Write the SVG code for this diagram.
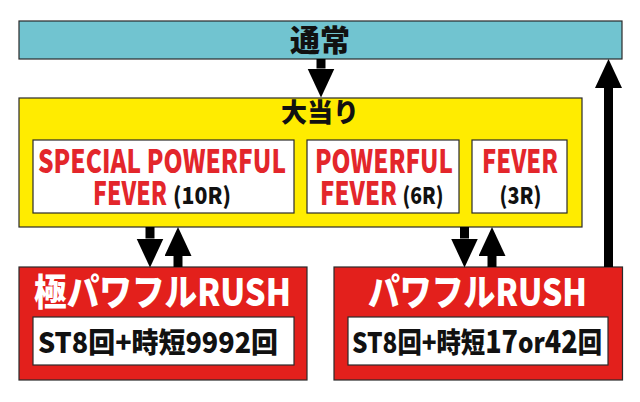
<svg xmlns="http://www.w3.org/2000/svg" width="640" height="402" viewBox="0 0 640 402">
<defs>
<style>
.box{stroke:#2a2a2a;stroke-width:1.2}
.cyan{fill:#71c4d0}
.yellow{fill:#ffec00}
.red{fill:#e3201c}
.white{fill:#ffffff}
.t{font-family:"Noto Sans CJK JP","Noto Sans",sans-serif;font-weight:900}
.rt{fill:#e3262b}
.bt{fill:#111111}
.wt{fill:#ffffff}
.conn{stroke:#000;stroke-width:9;fill:none;marker-end:url(#head)}
</style>
<marker id="head" markerUnits="userSpaceOnUse" markerWidth="30" markerHeight="28" refX="0" refY="13.5" orient="auto" viewBox="0 0 30 28">
<path d="M0,0 L29,13.5 L0,27 z" fill="#000"/>
</marker>
</defs>
<rect width="640" height="402" fill="#ffffff"/>

<g id="tsujo">
<rect class="box cyan" x="19" y="21" width="603" height="38"/>
<text class="t bt" x="320" y="51" font-size="30" text-anchor="middle">通常</text>
</g>

<g id="ooatari">
<rect class="box yellow" x="19" y="98" width="563" height="129"/>
<text class="t bt" x="320" y="122" font-size="26" text-anchor="middle">大当り</text>
</g>

<g id="spf">
<rect class="box white" x="33" y="140" width="261" height="73"/>
<text class="t rt" x="38" y="172.5" font-size="32" textLength="248" lengthAdjust="spacingAndGlyphs">SPECIAL POWERFUL</text>
<text class="t rt" x="93" y="204.5" font-size="32" textLength="74" lengthAdjust="spacingAndGlyphs">FEVER</text>
<text class="t bt" x="173" y="203.5" font-size="23" textLength="58" lengthAdjust="spacingAndGlyphs">(10R)</text>
</g>

<g id="pf">
<rect class="box white" x="307" y="140" width="152" height="73"/>
<text class="t rt" x="315" y="172.5" font-size="32" textLength="138" lengthAdjust="spacingAndGlyphs">POWERFUL</text>
<text class="t rt" x="320" y="204.5" font-size="32" textLength="77" lengthAdjust="spacingAndGlyphs">FEVER</text>
<text class="t bt" x="402.5" y="203.5" font-size="23" textLength="41" lengthAdjust="spacingAndGlyphs">(6R)</text>
</g>

<g id="fever">
<rect class="box white" x="472" y="140" width="95" height="73"/>
<text class="t rt" x="482" y="172.5" font-size="32" textLength="76" lengthAdjust="spacingAndGlyphs">FEVER</text>
<text class="t bt" x="499.5" y="203.5" font-size="23" textLength="42" lengthAdjust="spacingAndGlyphs">(3R)</text>
</g>

<g id="goku-rush">
<rect class="box red" x="19" y="267" width="288" height="113"/>
<text class="t wt" x="34" y="306" font-size="37" textLength="257" lengthAdjust="spacingAndGlyphs">極パワフルRUSH</text>
<rect class="box white" x="33" y="317" width="261" height="48"/>
<text class="t bt" x="38" y="352.5" font-size="28" textLength="240" lengthAdjust="spacingAndGlyphs">ST8回+時短9992回</text>
</g>

<g id="power-rush">
<rect class="box red" x="334" y="267" width="288.5" height="113"/>
<text class="t wt" x="368" y="306" font-size="37" textLength="219" lengthAdjust="spacingAndGlyphs">パワフルRUSH</text>
<rect class="box white" x="348" y="317" width="260" height="48"/>
<text class="t bt" x="352" y="352.5" font-size="28" textLength="250" lengthAdjust="spacingAndGlyphs">ST8回+時短<tspan font-size="31">17</tspan>or<tspan font-size="31">42</tspan>回</text>
</g>

<g id="connectors">
<line class="conn" x1="321" y1="59" x2="321" y2="68.5"/>
<line class="conn" x1="150" y1="227" x2="150" y2="238.5"/>
<line class="conn" x1="178" y1="267" x2="178" y2="256"/>
<line class="conn" x1="464.5" y1="227" x2="464.5" y2="238.5"/>
<line class="conn" x1="492" y1="267" x2="492" y2="256"/>
<line class="conn" x1="608.5" y1="267" x2="608.5" y2="88"/>
</g>
</svg>
